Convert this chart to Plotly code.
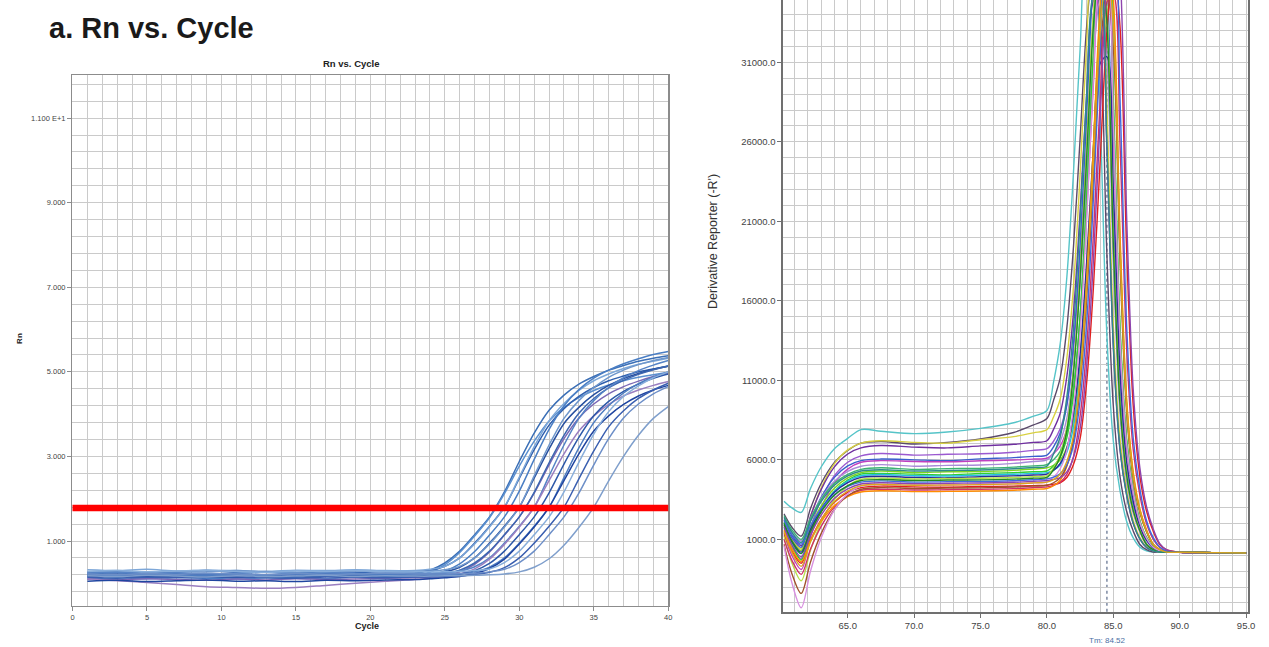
import plotly.graph_objects as go

# ---------------- data: a. Rn vs. Cycle ----------------
CYCLES = [1, 3, 5, 7, 9, 11, 13, 15, 17, 19, 21, 23, 24, 25, 26, 27, 28, 29, 30,
          31, 32, 33, 34, 35, 36, 37, 38, 39, 40]
RN_THRESHOLD = 1.78
RN_TOP_LABEL = "1.100 E+1"

rn_A = [0.22,0.25,0.20,0.24,0.21,0.23,0.20,0.22,0.24,0.21,0.23, 0.24,0.31,0.48,0.76,1.15,1.57,2.16,2.88,3.55,4.09,4.45,4.71,4.89,5.04,5.15,5.25,5.32,5.38]
rn_B = [0.14,0.17,0.13,0.16,0.15,0.12,0.16,0.14,0.17,0.15,0.16, 0.19,0.26,0.44,0.73,1.12,1.55,2.12,2.77,3.36,3.84,4.16,4.39,4.56,4.69,4.79,4.87,4.93,4.99]
rn_C = [0.26,0.28,0.25,0.27,0.30,0.26,0.28,0.25,0.27,0.26,0.24, 0.27,0.30,0.40,0.60,0.95,1.35,1.80,2.48,3.16,3.74,4.13,4.42,4.63,4.79,4.90,5.00,5.07,5.14]
rn_Q = [0.32,0.30,0.33,0.29,0.31,0.30,0.28,0.31,0.30,0.32,0.30, 0.30,0.33,0.40,0.60,0.93,1.33,1.80,2.51,3.23,3.84,4.25,4.56,4.79,4.95,5.08,5.18,5.25,5.32]
rn_D = [0.10,0.13,0.11,0.14,0.12,0.10,0.13,0.12,0.11,0.14,0.13, 0.15,0.20,0.29,0.46,0.75,1.14,1.57,2.18,2.93,3.64,4.20,4.58,4.85,5.04,5.19,5.31,5.41,5.48]
rn_E = [0.18,0.20,0.16,0.19,0.17,0.20,0.18,0.16,0.19,0.18,0.20, 0.20,0.22,0.27,0.38,0.60,0.95,1.35,1.80,2.49,3.18,3.78,4.16,4.46,4.68,4.84,4.96,5.06,5.13]
rn_F = [0.27,0.29,0.26,0.28,0.27,0.30,0.27,0.26,0.28,0.29,0.27, 0.28,0.29,0.32,0.40,0.60,0.93,1.33,1.80,2.54,3.27,3.90,4.32,4.63,4.87,5.04,5.17,5.27,5.34]
rn_G = [0.10,0.08,0.11,0.09,0.07,0.10,0.08,0.11,0.09,0.10,0.12, 0.13,0.15,0.19,0.27,0.45,0.74,1.14,1.57,2.13,2.80,3.42,3.91,4.24,4.48,4.65,4.78,4.89,4.97]
rn_R = [0.20,0.22,0.19,0.21,0.20,0.18,0.21,0.20,0.22,0.19,0.20, 0.20,0.21,0.24,0.31,0.48,0.76,1.15,1.57,2.15,2.85,3.50,4.02,4.37,4.62,4.80,4.94,5.05,5.14]
rn_H = [0.24,0.26,0.23,0.25,0.22,0.24,0.26,0.23,0.25,0.24,0.22, 0.23,0.24,0.25,0.29,0.39,0.60,0.95,1.35,1.80,2.54,3.27,3.90,4.32,4.63,4.86,5.03,5.16,5.27]
rn_I = [0.10,0.06,0.02,-0.03,-0.08,-0.10,-0.12,-0.10,-0.05,0.00,0.05, 0.09,0.12,0.16,0.22,0.34,0.57,0.92,1.33,1.80,2.43,3.06,3.60,3.96,4.23,4.43,4.57,4.68,4.77]
rn_J = [0.16,0.18,0.15,0.17,0.16,0.14,0.17,0.16,0.18,0.15,0.17, 0.18,0.18,0.19,0.22,0.30,0.47,0.76,1.15,1.57,2.14,2.82,3.45,3.96,4.30,4.54,4.71,4.85,4.95]
rn_K = [0.21,0.19,0.22,0.20,0.18,0.21,0.19,0.22,0.20,0.21,0.19, 0.20,0.20,0.21,0.22,0.27,0.38,0.60,0.95,1.35,1.80,2.50,3.20,3.80,4.20,4.50,4.72,4.88,5.00]
rn_L = [0.05,0.07,0.04,0.06,0.08,0.05,0.06,0.04,0.07,0.06,0.08, 0.09,0.11,0.13,0.16,0.23,0.35,0.57,0.93,1.33,1.80,2.43,3.06,3.60,3.96,4.23,4.43,4.57,4.68]
rn_M = [0.28,0.30,0.27,0.29,0.31,0.28,0.26,0.29,0.28,0.30,0.27, 0.27,0.27,0.27,0.28,0.30,0.34,0.49,0.76,1.15,1.57,2.16,2.86,3.53,4.06,4.42,4.67,4.86,5.00]
rn_N = [0.14,0.12,0.15,0.13,0.14,0.16,0.13,0.12,0.15,0.14,0.13, 0.15,0.15,0.16,0.18,0.21,0.26,0.37,0.60,0.95,1.35,1.80,2.47,3.13,3.70,4.08,4.37,4.57,4.73]
rn_O = [0.22,0.20,0.23,0.21,0.24,0.22,0.20,0.23,0.21,0.22,0.24, 0.22,0.22,0.22,0.23,0.24,0.27,0.33,0.49,0.76,1.15,1.57,2.13,2.80,3.42,3.91,4.24,4.48,4.65]
rn_P = [0.18,0.16,0.19,0.17,0.15,0.18,0.16,0.17,0.19,0.16,0.18, 0.17,0.17,0.18,0.18,0.19,0.20,0.22,0.27,0.38,0.58,0.90,1.32,1.80,2.42,3.00,3.50,3.90,4.18]

RN_SERIES = [rn_A, rn_B, rn_C, rn_Q, rn_D, rn_E, rn_F, rn_G, rn_R,
             rn_H, rn_I, rn_J, rn_K, rn_L, rn_M, rn_N, rn_O, rn_P]
RN_COLORS = ["#3b6fb6", "#5a8fcf", "#2f5fae", "#7da7d8", "#4a7ec4", "#28509f",
             "#6f97cc", "#7b68b5", "#3c66b0", "#5583c6", "#9a7fc0", "#2d58a8",
             "#4d7cc0", "#1f45a0", "#88aedb", "#3a5fb0", "#6d8fc8", "#7f9fcc"]

# ---------------- data: melt curve (derivative reporter) ----------------
TEMPS = [60.2, 60.8, 61.5, 62.2, 63.0, 64.0, 65.0, 66.0, 67.5, 70.0, 72.5, 75.0,
         77.5, 79.0, 80.0, 80.5, 81.0, 81.5, 82.0, 82.5, 83.0, 83.5, 84.0, 84.5,
         85.0, 85.5, 86.0, 86.5, 87.0, 87.5, 88.0, 88.5, 89.0, 90.0, 92.5, 95.0]
TM_VALUE = 84.52
TM_LABEL = "Tm: 84.52"

m01 = [3400,2980,2700,4200,5550,6700,7350,7900,7800,7650,7750,7980,8330,8750,9100, 10890,13290,17470,24050,31820,37800,38220,28140,14170,7180,4080,2140,1090,510,280,200,200,195,185,165,140]
m02 = [2600,1760,1200,2940,4510,5840,6590,7050,7150,7000,7100,7320,7720,8200,8600, 9740,11160,14280,19390,26210,33310,37000,33320,19340,9400,4980,2780,1520,680,350,200,200,195,185,165,140]
m03 = [1900,1000,400,2410,4220,5760,6630,7050,7200,7100,7050,7260,7460,7700,7900, 8700,9830,12390,16890,23950,32300,38720,39200,28860,14530,7360,4180,2190,1120,520,280,200,195,185,165,140]
m04 = [2200,1240,600,2460,4130,5560,6370,6750,6900,6800,6750,6880,6980,7100,7200, 7920,8930,11230,15260,21600,29090,34850,35280,25980,13090,6640,3780,1990,1020,490,270,200,195,185,165,140]
m05 = [1500,480,-200,1750,3510,5000,5850,6250,6400,6300,6350,6380,6480,6600,6700, 7170,7950,9520,12960,18590,26110,33930,38000,34220,19860,9650,5110,2850,1560,690,350,200,195,185,165,140]
m06 = [2000,1100,500,2150,3640,4900,5620,5950,6050,6000,5950,6060,6140,6220,6300, 6820,7690,9420,13240,19490,27810,36490,41000,36920,21420,10400,5500,3060,1670,730,360,200,195,185,165,140]
m07 = [1300,-20,-900,1140,2980,4540,5420,5850,5950,5900,5880,5940,5990,6050,6100, 6380,6870,7950,10430,14750,21550,29580,35760,36260,26700,13450,6820,3880,2040,1050,490,270,200,185,165,140]
m08 = [2300,1460,900,2310,3580,4660,5270,5600,5700,5600,5650,5680,5780,5900,6000, 6440,7160,8610,11800,17020,23980,31230,35000,31520,18300,8900,4720,2640,1450,650,340,200,195,185,165,140]
m09 = [2500,1600,1000,2320,3510,4520,5090,5400,5500,5400,5450,5460,5540,5620,5700, 6000,6530,7700,10360,15020,22350,31010,37670,38220,28140,14170,7180,4080,2140,1090,510,280,200,185,165,140]
m10 = [1800,900,300,1770,3090,4220,4860,5200,5300,5200,5250,5260,5340,5420,5500, 5660,5990,6800,8430,12000,17850,25650,33780,38000,34220,19860,9650,5110,2850,1560,690,350,200,185,165,140]
m11 = [2100,660,-300,1320,2780,4020,4720,5100,5150,5100,5050,5140,5190,5250,5300, 5610,6170,7380,10160,15020,22650,31670,38610,39200,28860,14530,7360,4180,2190,1120,520,280,200,185,165,140]
m12 = [1700,740,100,1570,2890,4020,4660,5000,5080,5000,4980,5040,5090,5150,5200, 5360,5680,6470,8060,11560,17280,24920,32870,37000,33320,19340,9400,4980,2780,1520,680,350,200,185,165,140]
m13 = [1900,880,200,1610,2880,3960,4570,4900,4950,4900,4870,4940,4990,5050,5100, 5340,5770,6710,8870,12630,18550,25540,30920,31360,23100,11650,5920,3380,1790,930,450,260,200,185,165,140]
m14 = [1200,-480,-1600,320,2050,3520,4350,4780,4850,4800,4830,4840,4890,4950,5000, 5500,6340,8020,11700,17730,25770,34150,38500,34670,20120,9780,5180,2880,1580,700,350,200,195,185,165,140]
m15 = [1400,260,-500,940,2240,3340,3960,4250,4350,4300,4280,4320,4350,4380,4400, 4470,4560,4890,5700,7330,10920,16790,24610,32760,37000,33320,19340,9400,4980,2780,1520,680,350,190,165,140]
m16 = [1000,-320,-1200,390,1820,3040,3730,4080,4150,4100,4120,4140,4190,4250,4300, 4400,4590,5090,6200,8740,13180,20150,28390,34730,35280,25980,13090,6640,3780,1990,1020,490,270,190,165,140]
m17 = [1600,400,-400,920,2110,3120,3690,3980,4060,4000,4020,4040,4090,4150,4200, 4370,4720,5590,7330,11160,17420,25780,34480,39000,35120,20380,9900,5240,2920,1600,700,360,200,185,165,140]
m18 = [700,-1160,-2400,-420,1360,2880,3740,4150,4250,4200,4220,4240,4290,4350,4400, 4560,4870,5640,7200,10620,16220,23680,31460,35500,31970,18560,9030,4790,2670,1470,660,340,200,185,165,140]
m19 = [600,-1740,-3300,-990,1090,2860,3860,4350,4450,4400,4420,4440,4490,4550,4600, 4900,5440,6600,9280,13950,21300,29980,36660,37240,27420,13810,7000,3980,2090,1070,500,280,200,185,165,140]
m20 = [2200,1300,700,1870,2920,3820,4330,4600,4680,4600,4630,4640,4690,4750,4800, 4910,5120,5680,6910,9730,14660,22400,31550,38590,39200,28860,14530,7360,4180,2190,1120,520,280,190,165,140]
m21 = [2000,860,100,1480,2720,3780,4380,4700,4760,4700,4730,4740,4790,4850,4900, 5390,6200,7830,11420,17290,25110,33260,37500,33770,19600,9530,5050,2810,1540,680,350,200,195,185,165,140]
m22 = [1800,660,-100,1280,2520,3580,4180,4480,4560,4500,4530,4540,4590,4650,4700, 4770,4880,5240,6150,7970,11960,18490,27210,36280,41000,36920,21420,10400,5500,3060,1670,730,360,190,165,140]
m23 = [2400,1440,800,2150,3370,4400,4990,5300,5380,5300,5330,5360,5440,5520,5600, 6370,7450,9930,14250,21050,29080,35260,35770,26340,13270,6730,3830,2020,1030,490,270,200,195,185,165,140]
m24 = [1500,180,-700,830,2210,3380,4040,4380,4450,4400,4420,4440,4490,4550,4600, 4760,5090,5900,7520,11080,16910,24690,32790,37000,33320,19340,9400,4980,2780,1520,680,350,200,185,165,140]

MELT_SERIES = [m01, m02, m03, m04, m05, m06, m07, m08, m09, m10, m11, m12,
               m13, m14, m15, m16, m17, m18, m19, m20, m21, m22, m23, m24]
MELT_COLORS = ["#55c4c8", "#5a4a6a", "#d8d040", "#7030a0", "#9b59d0", "#3a5fcd",
               "#c040c0", "#a98bd8", "#3cb371", "#7ed321", "#32cd32", "#20c0e0",
               "#2a2a9a", "#b8e04a", "#e02020", "#d0306a", "#ff8c00", "#a0522d",
               "#d890e0", "#4169e1", "#228b22", "#8e44ad", "#2e8b8b", "#daa520"]

# ---------------- figure ----------------
W, H = 1269, 647
FONT = "Liberation Sans, Arial, sans-serif"
GRID = "#cacaca"


def fx(px):
    return px / W


def fy(py):
    return 1 - py / H


fig = go.Figure()

for vals, col in zip(RN_SERIES, RN_COLORS):
    fig.add_trace(go.Scatter(x=CYCLES, y=vals, mode="lines", xaxis="x", yaxis="y",
                             line=dict(color=col, width=1.5, shape="spline", smoothing=0.8),
                             hoverinfo="skip", showlegend=False))

for vals, col in zip(MELT_SERIES, MELT_COLORS):
    fig.add_trace(go.Scatter(x=TEMPS, y=vals, mode="lines", xaxis="x2", yaxis="y2",
                             line=dict(color=col, width=1.4, shape="spline", smoothing=0.9),
                             hoverinfo="skip", showlegend=False))

# threshold line (left panel)
fig.add_shape(type="line", xref="x domain", x0=0, x1=1, yref="y",
              y0=RN_THRESHOLD, y1=RN_THRESHOLD,
              line=dict(color="#ff0000", width=6.5), layer="above")
# Tm line (right panel)
fig.add_shape(type="line", xref="x2", x0=TM_VALUE, x1=TM_VALUE, yref="y2 domain",
              y0=0, y1=1, line=dict(color="#5b6b8a", width=1.2, dash="dot"),
              layer="below")

axis_common = dict(showline=True, zeroline=False, showgrid=True,
                   gridcolor=GRID, gridwidth=1, ticks="outside", ticklen=4)

fig.update_layout(
    width=W, height=H,
    margin=dict(l=0, r=0, t=0, b=0),
    paper_bgcolor="white", plot_bgcolor="white",
    showlegend=False, hovermode=False,
    font=dict(family=FONT, color="#333333"),
    xaxis=dict(domain=[fx(71), fx(671)], range=[0, 40], anchor="y",
               tickmode="linear", tick0=0, dtick=5,
               tickfont=dict(size=7.5, color="#444444"),
               linecolor="#8c8c8c", linewidth=1.5, mirror=True, tickcolor="#8c8c8c",
               minor=dict(dtick=1, tick0=0, showgrid=True, gridcolor=GRID, gridwidth=1),
               **axis_common),
    yaxis=dict(domain=[fy(605.7), fy(75)], range=[-0.53, 12.02], anchor="x",
               tickmode="linear", tick0=1, dtick=2, tickformat=".3f",
               labelalias={"11.000": RN_TOP_LABEL},
               tickfont=dict(size=7.5, color="#444444"),
               linecolor="#8c8c8c", linewidth=1.5, mirror=True, tickcolor="#8c8c8c",
               minor=dict(dtick=0.4, tick0=1, showgrid=True, gridcolor=GRID, gridwidth=1),
               **axis_common),
    xaxis2=dict(domain=[fx(787), fx(1255)], range=[60.16, 95.15], anchor="y2",
                tickmode="linear", tick0=65, dtick=5, tickformat=".1f",
                tickfont=dict(size=9.5, color="#444444"),
                linecolor="#707070", linewidth=2, tickcolor="#707070",
                minor=dict(dtick=1, tick0=60, showgrid=True, gridcolor=GRID, gridwidth=1),
                **axis_common),
    yaxis2=dict(domain=[fy(611.7), 1.0], range=[-3550, 34920], anchor="x2",
                tickmode="linear", tick0=1000, dtick=5000, tickformat=".1f",
                tickfont=dict(size=9.5, color="#444444"),
                linecolor="#707070", linewidth=2, mirror=True, tickcolor="#707070",
                minor=dict(dtick=1000, tick0=1000, showgrid=True, gridcolor=GRID, gridwidth=1),
                **axis_common),
)

annotations = [
    dict(text="<b>a. Rn vs. Cycle</b>", x=fx(45), y=fy(28), xanchor="left", yanchor="middle",
         font=dict(size=29, color="#1a1a1a", family=FONT)),
    dict(text="<b>Rn vs. Cycle</b>", x=fx(352), y=fy(63.5), xanchor="center", yanchor="middle",
         font=dict(size=9.5, color="#222222", family=FONT)),
    dict(text="<b>Rn</b>", x=fx(17), y=fy(338), textangle=-90, xanchor="center", yanchor="middle",
         font=dict(size=8, color="#222222", family=FONT)),
    dict(text="<b>Cycle</b>", x=fx(367.5), y=fy(626), xanchor="center", yanchor="middle",
         font=dict(size=9, color="#222222", family=FONT)),
    dict(text="Derivative Reporter (-R')", x=fx(716), y=fy(241), textangle=-90,
         xanchor="center", yanchor="middle",
         font=dict(size=12.5, color="#333333", family=FONT)),
    dict(text=TM_LABEL, x=fx(1113), y=fy(640), xanchor="center", yanchor="middle",
         font=dict(size=8, color="#4a6fa5", family=FONT)),
]
for a in annotations:
    a.update(xref="paper", yref="paper", showarrow=False)
fig.update_layout(annotations=annotations)

fig.write_html("out.html",
               config={"displayModeBar": False, "staticPlot": True},
               post_script="document.body.style.margin='0px';document.body.style.overflow='hidden';")
